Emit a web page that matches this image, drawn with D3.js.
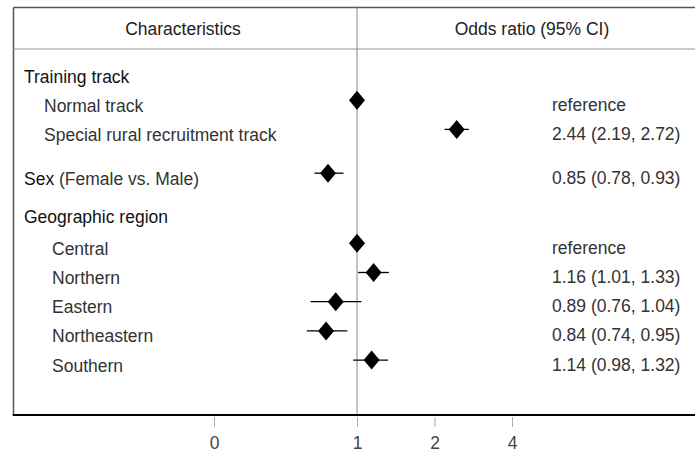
<!DOCTYPE html>
<html>
<head>
<meta charset="utf-8">
<script src="https://cdn.jsdelivr.net/npm/d3@7"></script>
<style>
  body { margin: 0; background: #fff; }
  text { font-family: "Liberation Sans", Arial, sans-serif; }
</style>
</head>
<body>
<div id="forest"></div>
<script>
"use strict";

// rows of the table, top to bottom
const labels = [
    "Training track", "Normal track", "Special rural recruitment track",
    "Sex", "Geographic region",
    "Central", "Northern", "Eastern", "Northeastern", "Southern",
];
const kinds = ["group", "item", "item", "group", "group", "sub", "sub", "sub", "sub", "sub"];
const notes = [null, null, null, "(Female vs. Male)", null, null, null, null, null, null];
const or_est = [null, 1.00, 2.44, 0.85, null, 1.00, 1.16, 0.89, 0.84, 1.14];
const or_lo = [null, null, 2.19, 0.78, null, null, 1.01, 0.76, 0.74, 0.98];
const or_hi = [null, null, 2.72, 0.93, null, null, 1.33, 1.04, 0.95, 1.32];
const or_text = [null, "reference", "2.44 (2.19, 2.72)", "0.85 (0.78, 0.93)", null,
    "reference", "1.16 (1.01, 1.33)", "0.89 (0.76, 1.04)", "0.84 (0.74, 0.95)", "1.14 (0.98, 1.32)"];

const tick_values = [0, 1, 2, 4];
const tick_labels = ["0", "1", "2", "4"];

const W = 695;
const H = 452;
const FS = 17.5;
const BOX = { left: 13.5, top: 7.5, right: 695, bottom: 415, header: 49 };

let svg = d3.select("#forest").append("svg")
    .attr("width", W)
    .attr("height", H);

// linear below 1, log2 above 1 (as drawn in the figure)
function t(v) {
    return v < 1 ? v : 1 + Math.log2(v);
}

let xscale = d3.scaleLinear()
    .domain([0, 0.7, 1, 3])
    .range([214, 299, 357, 512]);

// row slots, with a bit of extra space between groups
let slots = [];
let s = 0;
labels.forEach((d, i) => {
    if (i > 0) {
        s += 1;
        if (i === 3) s += 0.5;
        if (i === 4) s += 0.3;
        if (i === 5) s += 0.1;
    }
    slots.push(s);
});

let yscale = d3.scaleLinear()
    .domain([0, 1])
    .range([75, 104.2]);

// frame
svg.append("line")
    .attr("x1", BOX.left).attr("x2", BOX.right)
    .attr("y1", BOX.top).attr("y2", BOX.top)
    .attr("stroke", "#555").attr("stroke-width", 1.5);
svg.append("line")
    .attr("x1", BOX.left).attr("x2", BOX.left)
    .attr("y1", BOX.top).attr("y2", BOX.bottom)
    .attr("stroke", "#555").attr("stroke-width", 1.5);
svg.append("line")
    .attr("x1", BOX.left).attr("x2", BOX.right)
    .attr("y1", BOX.header).attr("y2", BOX.header)
    .attr("stroke", "#999").attr("stroke-width", 1);
svg.append("line")
    .attr("x1", xscale(t(1))).attr("x2", xscale(t(1)))
    .attr("y1", BOX.top).attr("y2", BOX.bottom)
    .attr("stroke", "#888").attr("stroke-width", 1);

// header
svg.append("text")
    .attr("x", 183).attr("y", 29)
    .attr("text-anchor", "middle").attr("dominant-baseline", "central")
    .attr("font-size", FS).attr("fill", "#222")
    .text("Characteristics");
svg.append("text")
    .attr("x", 532).attr("y", 29)
    .attr("text-anchor", "middle").attr("dominant-baseline", "central")
    .attr("font-size", FS).attr("fill", "#222")
    .text("Odds ratio (95% CI)");

// left labels
let indent = { group: 24, item: 44, sub: 52 };
labels.forEach((d, i) => {
    let txt = svg.append("text")
        .attr("x", indent[kinds[i]])
        .attr("y", yscale(slots[i]) + 1.5)
        .attr("dominant-baseline", "central")
        .attr("font-size", FS)
        .attr("fill", kinds[i] === "group" ? "#111" : "#333");
    txt.append("tspan").text(d);
    if (notes[i]) {
        txt.append("tspan").attr("fill", "#333").text(" " + notes[i]);
    }
});

// right column
or_text.forEach((d, i) => {
    if (!d) return;
    svg.append("text")
        .attr("x", 552)
        .attr("y", yscale(slots[i]) + 0.5)
        .attr("dominant-baseline", "central")
        .attr("font-size", FS)
        .attr("fill", "#333")
        .text(d);
});

// whiskers and diamonds
let marks = svg.append("g");
or_est.forEach((d, i) => {
    if (d == null) return;
    let y = yscale(slots[i]) - 4;
    if (or_lo[i] != null) {
        marks.append("line")
            .attr("x1", xscale(t(or_lo[i])))
            .attr("x2", xscale(t(or_hi[i])))
            .attr("y1", y).attr("y2", y)
            .attr("stroke", "#000").attr("stroke-width", 1.3);
    }
    let x = xscale(t(d));
    marks.append("path")
        .attr("d", `M${x},${y - 9.5}L${x + 8},${y}L${x},${y + 9.5}L${x - 8},${y}Z`)
        .attr("fill", "#000");
});

// bottom rule and axis
svg.append("line")
    .attr("x1", BOX.left - 0.75).attr("x2", BOX.right)
    .attr("y1", BOX.bottom).attr("y2", BOX.bottom)
    .attr("stroke", "#000").attr("stroke-width", 2);

let xaxis = svg.append("g")
    .attr("transform", `translate(0,${BOX.bottom + 2})`)
    .call(d3.axisBottom(xscale)
        .tickValues(tick_values.map(t))
        .tickFormat((d, i) => tick_labels[i])
        .tickSize(10)
        .tickPadding(10));
xaxis.select(".domain").remove();
xaxis.selectAll(".tick line").attr("stroke", "#aaa");
xaxis.selectAll(".tick text")
    .attr("font-size", FS)
    .attr("font-family", "Liberation Sans, Arial, sans-serif")
    .attr("fill", "#444");
</script>
</body>
</html>
